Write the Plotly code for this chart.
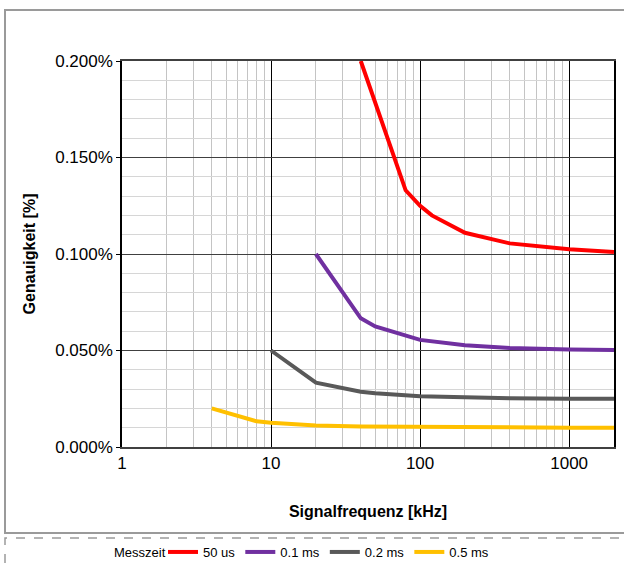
import plotly.graph_objects as go

# Data (frequency in kHz, accuracy in %)
f_50us = [40, 80, 100, 120, 200, 400, 1000, 2000]
a_50us = [0.200, 0.133, 0.125, 0.120, 0.111, 0.1055, 0.1025, 0.1010]
f_01ms = [20, 40, 50, 100, 200, 400, 1000, 2000]
a_01ms = [0.100, 0.0667, 0.0625, 0.0555, 0.0527, 0.0513, 0.0505, 0.0502]
f_02ms = [10, 20, 40, 50, 100, 200, 400, 1000, 2000]
a_02ms = [0.050, 0.0333, 0.0286, 0.0279, 0.0263, 0.0256, 0.0252, 0.0250, 0.0250]
f_05ms = [4, 8, 10, 20, 40, 100, 200, 1000, 2000]
a_05ms = [0.020, 0.0133, 0.0126, 0.0112, 0.0106, 0.0103, 0.0101, 0.0100, 0.0100]

x_ticks = [1, 10, 100, 1000]
x_tick_labels = ["1", "10", "100", "1000"]
x_minor = [m * d for d in (1, 10, 100, 1000) for m in range(2, 10) if m * d <= 2000]

series = [
    ("50 us", f_50us, a_50us, "#ff0000"),
    ("0.1 ms", f_01ms, a_01ms, "#7030a0"),
    ("0.2 ms", f_02ms, a_02ms, "#595959"),
    ("0.5 ms", f_05ms, a_05ms, "#ffc000"),
]

fig = go.Figure()
for name, fx, ay, col in series:
    fig.add_trace(go.Scatter(
        x=fx, y=[v / 100 for v in ay], name=name, mode="lines",
        line=dict(color=col, width=4),
    ))

font = "Liberation Sans, Arial, sans-serif"
PW, PH, L, T = 492, 386, 122, 61
fig.update_layout(
    width=624, height=566,
    margin=dict(l=122, r=10, t=61, b=119, autoexpand=False),
    paper_bgcolor="white", plot_bgcolor="white",
    font=dict(family=font, size=17, color="#000000"),
    showlegend=True,
    legend=dict(
        orientation="h", x=(163 - L) / PW, xanchor="left",
        y=(447 - 552) / PH, yanchor="middle",
        font=dict(size=13), itemwidth=30, tracegroupgap=0,
        bgcolor="rgba(0,0,0,0)",
    ),
    xaxis=dict(
        type="log", range=[0, 3.30103],
        tickmode="array", tickvals=x_ticks, ticktext=x_tick_labels,
        showgrid=True, gridcolor="#000000", gridwidth=1,
        showline=True, linecolor="#404040", linewidth=1.5, mirror=True,
        ticks="", tickfont=dict(size=17),
        minor=dict(tickmode="array", tickvals=x_minor, showgrid=True,
                   gridcolor="#c4c4c4", gridwidth=1, ticks=""),
        title=dict(text="<b>Signalfrequenz [kHz]</b>", font=dict(size=16), standoff=34),
        zeroline=False,
    ),
    yaxis=dict(
        range=[0, 0.002], dtick=0.0005, tickformat=".3%",
        showgrid=True, gridcolor="#404040", gridwidth=1,
        showline=True, linecolor="#000000", linewidth=1.5, mirror=True,
        ticks="outside", ticklen=4, tickcolor="#000000",
        minor=dict(dtick=0.0001, showgrid=True, gridcolor="#d6d6d6", gridwidth=1, ticks=""),
        tickfont=dict(size=17),
        title=dict(text="<b>Genauigkeit [%]</b>", font=dict(size=16), standoff=16),
        zeroline=False,
    ),
    annotations=[dict(
        text="Messzeit", xref="paper", yref="paper",
        x=(168 - L) / PW, y=(447 - 552) / PH, xanchor="right", yanchor="middle",
        showarrow=False, font=dict(size=13, color="#000000"),
    )],
)

# Outer frame and dashed legend box
fig.add_shape(type="rect", xref="paper", yref="paper",
              x0=(5 - L) / PW, x1=(640 - L) / PW,
              y0=(447 - 533) / PH, y1=(447 - 10) / PH,
              line=dict(color="#9a9a9a", width=2), layer="below")
fig.add_shape(type="rect", xref="paper", yref="paper",
              x0=(5 - L) / PW, x1=(640 - L) / PW,
              y0=(447 - 620) / PH, y1=(447 - 538) / PH,
              line=dict(color="#9a9a9a", width=1.5, dash="dash"), layer="below")

fig.write_html("out.html")
